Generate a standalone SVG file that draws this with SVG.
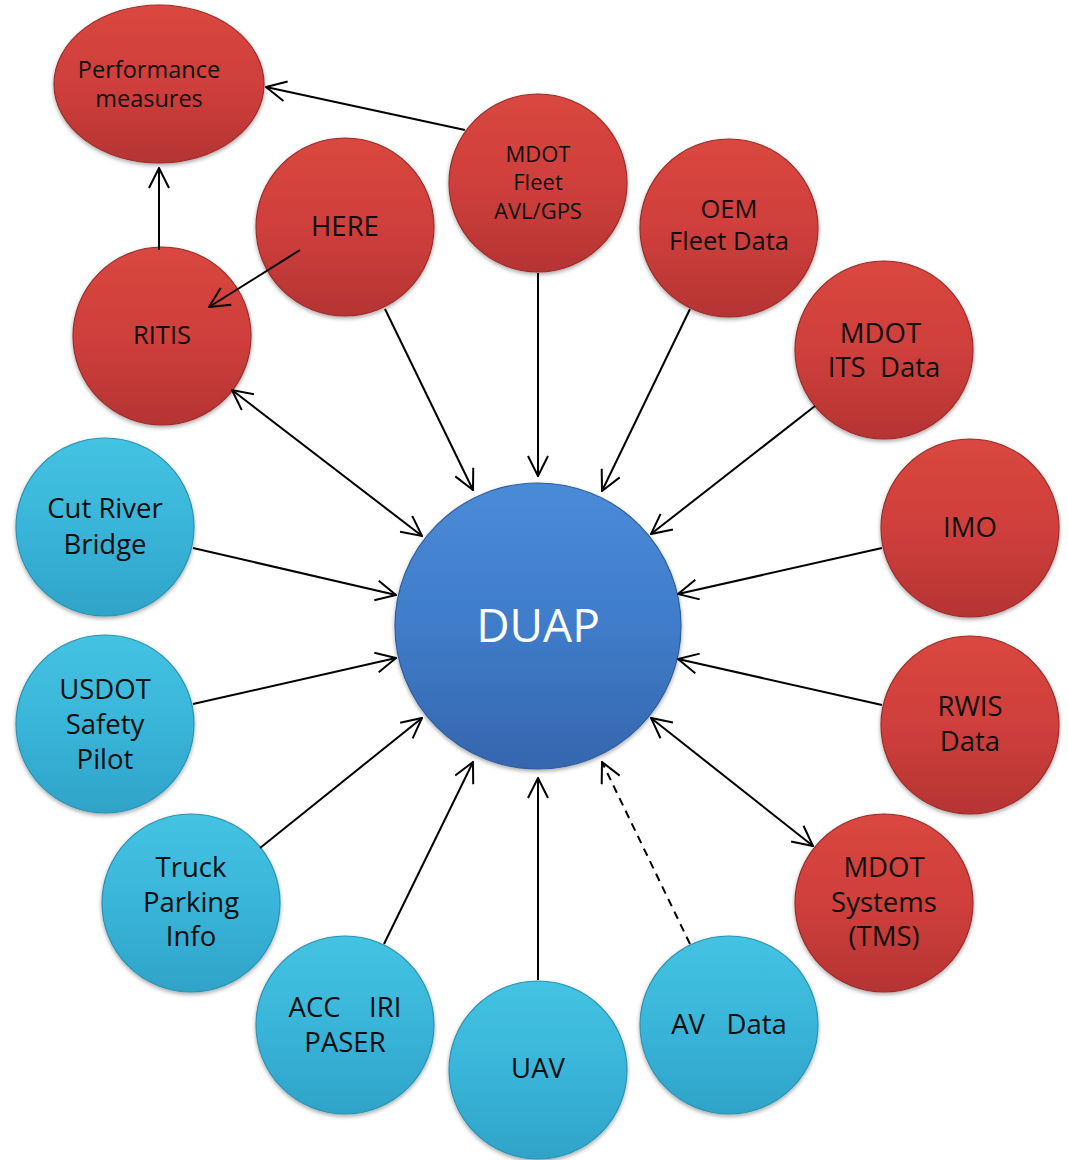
<svg xmlns="http://www.w3.org/2000/svg" width="1068" height="1160" viewBox="0 0 1068 1160">
<style>
.red{fill:url(#gRed);stroke:#9e2c2a;stroke-width:1.2;filter:url(#sh)}
.cyan{fill:url(#gCyan);stroke:#2b93b3;stroke-width:1.2;filter:url(#sh)}
.blue{fill:url(#gBlue);stroke:#2f5c9e;stroke-width:1.2;filter:url(#sh)}
text{font-family:"Open Sans","Noto Sans","Liberation Sans",sans-serif;fill:#0d0d0d;text-anchor:middle}
.t21{font-size:22px}
.t22{font-size:23.5px}
.t24{font-size:25.5px}
.t26{font-size:27.5px}
.duap{font-size:46px;fill:#fff}
.c{stroke:#000;stroke-width:2;fill:none}
.d{stroke-dasharray:8,6}
</style>
<defs>
<linearGradient id="gRed" x1="0" y1="0" x2="0" y2="1">
<stop offset="0" stop-color="#d9473f"/><stop offset="0.5" stop-color="#cf3f3c"/><stop offset="1" stop-color="#b53433"/>
</linearGradient>
<linearGradient id="gCyan" x1="0" y1="0" x2="0" y2="1">
<stop offset="0" stop-color="#44c3e2"/><stop offset="0.5" stop-color="#39b5d9"/><stop offset="1" stop-color="#2fa3c8"/>
</linearGradient>
<linearGradient id="gBlue" x1="0" y1="0" x2="0" y2="1">
<stop offset="0" stop-color="#4a8bd8"/><stop offset="0.5" stop-color="#3f7cc9"/><stop offset="1" stop-color="#3566ae"/>
</linearGradient>
<filter id="sh" x="-20%" y="-20%" width="140%" height="140%">
<feGaussianBlur in="SourceAlpha" stdDeviation="2"/>
<feOffset dx="0" dy="2" result="b"/>
<feComponentTransfer><feFuncA type="linear" slope="0.35"/></feComponentTransfer>
<feMerge><feMergeNode/><feMergeNode in="SourceGraphic"/></feMerge>
</filter>
<marker id="ah" viewBox="0 0 22 22" refX="21" refY="11" markerWidth="22" markerHeight="22" markerUnits="userSpaceOnUse" orient="auto-start-reverse">
<path d="M1,1 L21,11 L1,21" fill="none" stroke="#000" stroke-width="2"/>
</marker>
</defs>

<g id="perf"><ellipse class="red" cx="159" cy="84" rx="105" ry="79"/>
<text class="t22" x="149" y="78">Performance</text><text class="t22" x="149" y="107">measures</text></g>
<g id="here"><circle class="red" cx="345" cy="227" r="89"/><text class="t26" x="345" y="236">HERE</text></g>
<g id="fleet"><circle class="red" cx="538" cy="183" r="89"/>
<text class="t21" x="538" y="162">MDOT</text><text class="t21" x="538" y="190">Fleet</text><text class="t21" x="538" y="219">AVL/GPS</text></g>
<g id="oem"><circle class="red" cx="729" cy="228" r="89"/>
<text class="t24" x="729" y="218">OEM</text><text class="t24" x="729" y="250">Fleet Data</text></g>
<g id="ritis"><circle class="red" cx="162" cy="336" r="89"/><text class="t24" x="162" y="344">RITIS</text></g>
<g id="its"><circle class="red" cx="884" cy="350" r="89"/>
<text class="t26" x="884" y="343" xml:space="preserve">MDOT </text><text class="t26" x="884" y="377" xml:space="preserve">ITS  Data</text></g>
<g id="imo"><circle class="red" cx="970" cy="528" r="89"/><text class="t26" x="970" y="537">IMO</text></g>
<g id="rwis"><circle class="red" cx="970" cy="725" r="89"/>
<text class="t26" x="970" y="716">RWIS</text><text class="t26" x="970" y="751">Data</text></g>
<g id="tms"><circle class="red" cx="884" cy="903" r="89"/>
<text class="t26" x="884" y="877">MDOT</text><text class="t26" x="884" y="912">Systems</text><text class="t26" x="884" y="946">(TMS)</text></g>
<g id="cut"><circle class="cyan" cx="105" cy="527" r="89"/>
<text class="t26" x="105" y="518">Cut River</text><text class="t26" x="105" y="554">Bridge</text></g>
<g id="usdot"><circle class="cyan" cx="105" cy="724" r="89"/>
<text class="t26" x="105" y="699">USDOT</text><text class="t26" x="105" y="734">Safety</text><text class="t26" x="105" y="769">Pilot</text></g>
<g id="truck"><circle class="cyan" cx="191" cy="903" r="89"/>
<text class="t26" x="191" y="877">Truck</text><text class="t26" x="191" y="912">Parking</text><text class="t26" x="191" y="946">Info</text></g>
<g id="acc"><circle class="cyan" cx="345" cy="1025" r="89"/>
<text class="t26" x="345" y="1017" xml:space="preserve">ACC    IRI</text><text class="t26" x="345" y="1052">PASER</text></g>
<g id="uav"><circle class="cyan" cx="538" cy="1070" r="89"/><text class="t26" x="538" y="1078">UAV</text></g>
<g id="av"><circle class="cyan" cx="729" cy="1025" r="89"/><text class="t26" x="729" y="1034" xml:space="preserve">AV   Data</text></g>
<g id="duap"><circle class="blue" cx="538" cy="626" r="143"/><text class="duap" x="538" y="642">DUAP</text></g>

<g id="connectors">
<line class="c" x1="465" y1="130" x2="266" y2="87" marker-end="url(#ah)"/>
<line class="c" x1="159" y1="250" x2="159" y2="168" marker-end="url(#ah)"/>
<line class="c" x1="300" y1="250" x2="209" y2="307" marker-end="url(#ah)"/>
<line class="c" x1="385" y1="309" x2="473" y2="490" marker-end="url(#ah)"/>
<line class="c" x1="538" y1="273" x2="538" y2="476" marker-end="url(#ah)"/>
<line class="c" x1="690" y1="309" x2="602" y2="491" marker-end="url(#ah)"/>
<line class="c" x1="232" y1="390" x2="422" y2="536" marker-start="url(#ah)" marker-end="url(#ah)"/>
<line class="c" x1="815" y1="406" x2="651" y2="534" marker-end="url(#ah)"/>
<line class="c" x1="882" y1="548" x2="678" y2="594" marker-end="url(#ah)"/>
<line class="c" x1="882" y1="705" x2="678" y2="659" marker-end="url(#ah)"/>
<line class="c" x1="651" y1="718" x2="813" y2="846" marker-start="url(#ah)" marker-end="url(#ah)"/>
<line class="c" x1="193" y1="548" x2="396" y2="595" marker-end="url(#ah)"/>
<line class="c" x1="193" y1="704" x2="396" y2="658" marker-end="url(#ah)"/>
<line class="c" x1="260" y1="848" x2="422" y2="718" marker-end="url(#ah)"/>
<line class="c" x1="384" y1="944" x2="473" y2="762" marker-end="url(#ah)"/>
<line class="c" x1="538" y1="980" x2="538" y2="778" marker-end="url(#ah)"/>
<line class="c d" x1="690" y1="944" x2="602" y2="762" marker-end="url(#ah)"/>
</g>
</svg>
